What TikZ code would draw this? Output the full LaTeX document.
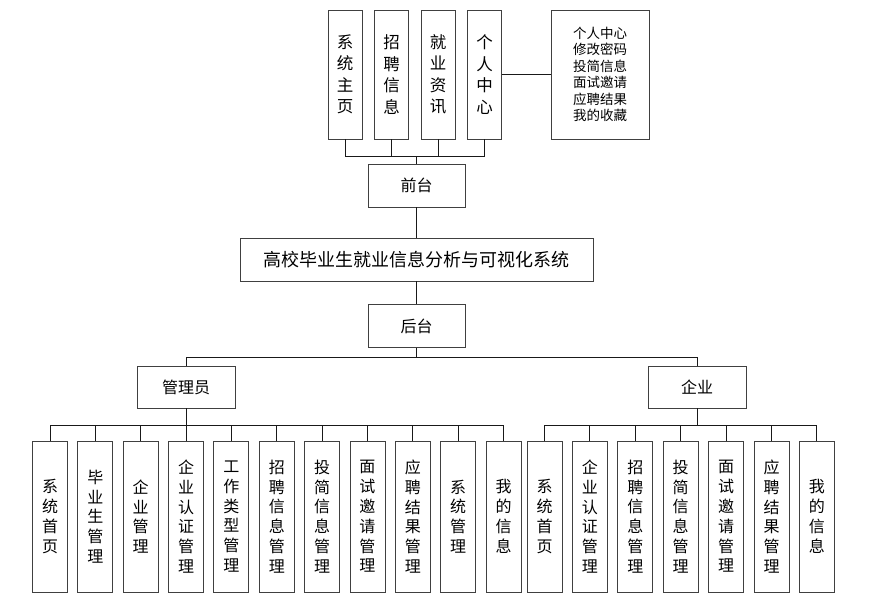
\documentclass[tikz,border=0pt]{standalone}
\usepackage{fontspec}
\setmainfont{Noto Sans CJK SC}

\tikzset{
  box/.style={draw=black!75, line width=0.9pt, inner sep=0pt, align=center},
  tbox/.style={box, minimum width=34pt, minimum height=129pt, font=\fontsize{16.5}{21.5}\selectfont},
  vbox/.style={box, minimum width=35pt, minimum height=151pt, font=\fontsize{16}{19.8}\selectfont},
  hbox/.style={box, minimum width=97pt, minimum height=43pt, font=\fontsize{16}{20}\selectfont},
  link/.style={draw=black!90, line width=0.9pt}
}

\begin{document}
\begin{tikzpicture}[x=1pt,y=-1pt]
\useasboundingbox (0,0) rectangle (872,601);
% front end
\node[tbox] (t1) at (345,74.5) {系\\统\\主\\页};
\node[tbox] (t2) at (391.5,74.5) {招\\聘\\信\\息};
\node[tbox] (t3) at (438,74.5) {就\\业\\资\\讯};
\node[tbox] (t4) at (484.5,74.5) {个\\人\\中\\心};
\node[box, minimum width=98pt, minimum height=129pt, font=\fontsize{13.5}{16.5}\selectfont] (grzx) at (600,74.5)
  {个人中心\\修改密码\\投简信息\\面试邀请\\应聘结果\\我的收藏};
\node[hbox] (qt) at (416.5,185.5) {前台};
\node[hbox, minimum width=353pt, font=\fontsize{18}{20}\selectfont] (sys) at (416.5,259.5) {高校毕业生就业信息分析与可视化系统};
\node[hbox] (ht) at (416.5,326) {后台};
\node[hbox, minimum width=98pt, minimum height=42pt] (gly) at (186,387) {管理员};
\node[hbox, minimum width=98pt, minimum height=42pt] (qy) at (697,387) {企业};

% back end leaves
\foreach \t [count=\i] in {{系\\统\\首\\页},{毕\\业\\生\\管\\理},{企\\业\\管\\理},{企\\业\\认\\证\\管\\理},
    {工\\作\\类\\型\\管\\理},{招\\聘\\信\\息\\管\\理},{投\\简\\信\\息\\管\\理},{面\\试\\邀\\请\\管\\理},
    {应\\聘\\结\\果\\管\\理},{系\\统\\管\\理},{我\\的\\信\\息}}
  \node[vbox] (a\i) at ({50+(\i-1)*45.35},516.5) {\t};
\foreach \t [count=\i] in {{系\\统\\首\\页},{企\\业\\认\\证\\管\\理},{招\\聘\\信\\息\\管\\理},{投\\简\\信\\息\\管\\理},
    {面\\试\\邀\\请\\管\\理},{应\\聘\\结\\果\\管\\理},{我\\的\\信\\息}}
  \node[vbox] (b\i) at ({544.5+(\i-1)*45.4},516.5) {\t};

% connectors
\coordinate (qbus) at (0,156);
\coordinate (hbus) at (0,357);
\coordinate (cbus) at (0,425);
\foreach \i in {1,...,4}
  \draw[link] (qt.north) -- (qt.north |- qbus) -| (t\i.south);
\draw[link] (t4) -- (grzx);
\draw[link] (qt) -- (sys);
\draw[link] (sys) -- (ht);
\foreach \n in {gly,qy}
  \draw[link] (ht.south) -- (ht.south |- hbus) -| (\n.north);
\foreach \i in {1,...,11}
  \draw[link] (gly.south) -- (gly.south |- cbus) -| (a\i.north);
\foreach \i in {1,...,7}
  \draw[link] (qy.south) -- (qy.south |- cbus) -| (b\i.north);
\end{tikzpicture}
\end{document}
